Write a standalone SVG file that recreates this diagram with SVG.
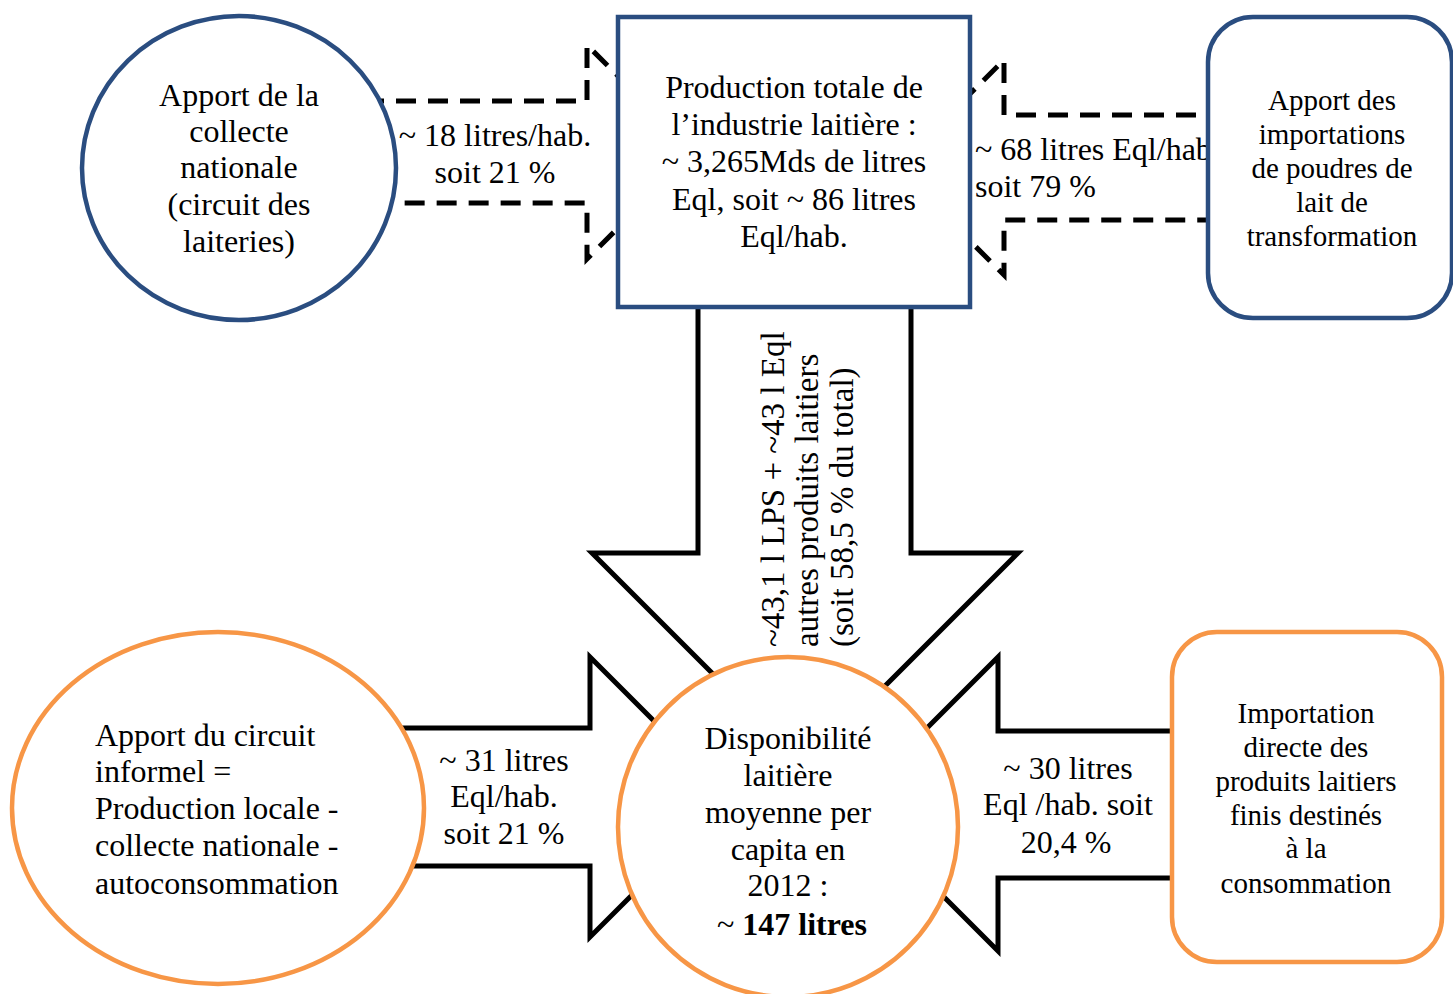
<svg xmlns="http://www.w3.org/2000/svg" width="1453" height="994" viewBox="0 0 1453 994">
  <style>
    .t { font-family: "Liberation Serif", "Times New Roman", serif; font-size: 32px; fill: #000; }
    .s { font-size: 29px; }
    .v { font-size: 33px; }
    .c { text-anchor: middle; }
    .b { font-weight: bold; }
    .blue { fill: #fff; stroke: #2A4D80; stroke-width: 4.5; }
    .orange { fill: #fff; stroke: #F79646; stroke-width: 4.5; }
    .dash { fill: #fff; stroke: #000; stroke-width: 5; stroke-dasharray: 20 12; }
    .solid { fill: #fff; stroke: #000; stroke-width: 5; stroke-linejoin: miter; }
  </style>

  <!-- flows between the sources and the totals -->
  <g id="connectors">
    <g id="flow-collecte">
      <path class="dash" d="M 300 101 H 587 V 45 L 694 152 L 587 259 V 203 H 300"/>
      <text class="t c" x="495" y="146">~ 18 litres/hab.</text>
      <text class="t c" x="495" y="183">soit 21 %</text>
    </g>
    <g id="flow-poudres">
      <path class="dash" d="M 1260 115 H 1004 V 60 L 896 167 L 1004 275 V 220 H 1260"/>
      <text class="t" x="975" y="160">~ 68 litres Eql/hab.</text>
      <text class="t" x="975" y="197">soit 79 %</text>
    </g>
    <g id="flow-industrie">
      <path class="solid" d="M 698 250 V 553 H 592 L 805 766 L 1018 553 H 911 V 250"/>
      <text class="t v" transform="translate(784 647) rotate(-90)">~43,1 l LPS + ~43 l Eql</text>
      <text class="t v" transform="translate(818 647) rotate(-90)">autres produits laitiers</text>
      <text class="t v" transform="translate(853 647) rotate(-90)">(soit 58,5 % du total)</text>
    </g>
    <g id="flow-informel">
      <path class="solid" d="M 300 728 H 590 V 657 L 730 797 L 590 937 V 866 H 300"/>
      <text class="t c" x="504" y="771">~ 31 litres</text>
      <text class="t c" x="504" y="807">Eql/hab.</text>
      <text class="t c" x="504" y="844">soit 21 %</text>
    </g>
    <g id="flow-import-directe">
      <path class="solid" d="M 1250 731 H 998 V 657 L 851 804 L 998 951 V 878 H 1250"/>
      <text class="t c" x="1068" y="779">~ 30 litres</text>
      <text class="t c" x="1068" y="815">Eql /hab. soit</text>
      <text class="t c" x="1066" y="853">20,4 %</text>
    </g>
  </g>

  <g id="collecte-nationale">
    <ellipse class="blue" cx="239" cy="168" rx="157" ry="152"/>
    <text class="t c" x="239" y="106">Apport de la</text>
    <text class="t c" x="239" y="142">collecte</text>
    <text class="t c" x="239" y="178">nationale</text>
    <text class="t c" x="239" y="215">(circuit des</text>
    <text class="t c" x="239" y="252">laiteries)</text>
  </g>

  <g id="production-industrie">
    <rect class="blue" x="618" y="17" width="352" height="290"/>
    <text class="t c" x="794" y="98">Production totale de</text>
    <text class="t c" x="794" y="135">l’industrie laitière :</text>
    <text class="t c" x="794" y="172">~ 3,265Mds de litres</text>
    <text class="t c" x="794" y="210">Eql, soit ~ 86 litres</text>
    <text class="t c" x="794" y="247">Eql/hab.</text>
  </g>

  <g id="importations-poudres">
    <rect class="blue" x="1208" y="17" width="244" height="301" rx="45"/>
    <text class="t s c" x="1332" y="110">Apport des</text>
    <text class="t s c" x="1332" y="144">importations</text>
    <text class="t s c" x="1332" y="178">de poudres de</text>
    <text class="t s c" x="1332" y="212">lait de</text>
    <text class="t s c" x="1332" y="246">transformation</text>
  </g>

  <g id="circuit-informel">
    <ellipse class="orange" cx="218" cy="808" rx="206" ry="176"/>
    <text class="t" x="95" y="746">Apport du circuit</text>
    <text class="t" x="95" y="782">informel =</text>
    <text class="t" x="95" y="819">Production locale -</text>
    <text class="t" x="95" y="856">collecte nationale -</text>
    <text class="t" x="95" y="894">autoconsommation</text>
  </g>

  <g id="disponibilite">
    <circle class="orange" cx="788" cy="827" r="170"/>
    <text class="t c" x="788" y="749">Disponibilité</text>
    <text class="t c" x="788" y="786">laitière</text>
    <text class="t c" x="788" y="823">moyenne per</text>
    <text class="t c" x="788" y="860">capita en</text>
    <text class="t c" x="788" y="896">2012 :</text>
    <text class="t c" x="792" y="935"><tspan>~ </tspan><tspan class="b">147 litres</tspan></text>
  </g>

  <g id="importation-directe">
    <rect class="orange" x="1172" y="632" width="270" height="330" rx="45"/>
    <text class="t s c" x="1306" y="723">Importation</text>
    <text class="t s c" x="1306" y="757">directe des</text>
    <text class="t s c" x="1306" y="791">produits laitiers</text>
    <text class="t s c" x="1306" y="825">finis destinés</text>
    <text class="t s c" x="1306" y="858">à la</text>
    <text class="t s c" x="1306" y="893">consommation</text>
  </g>
</svg>
